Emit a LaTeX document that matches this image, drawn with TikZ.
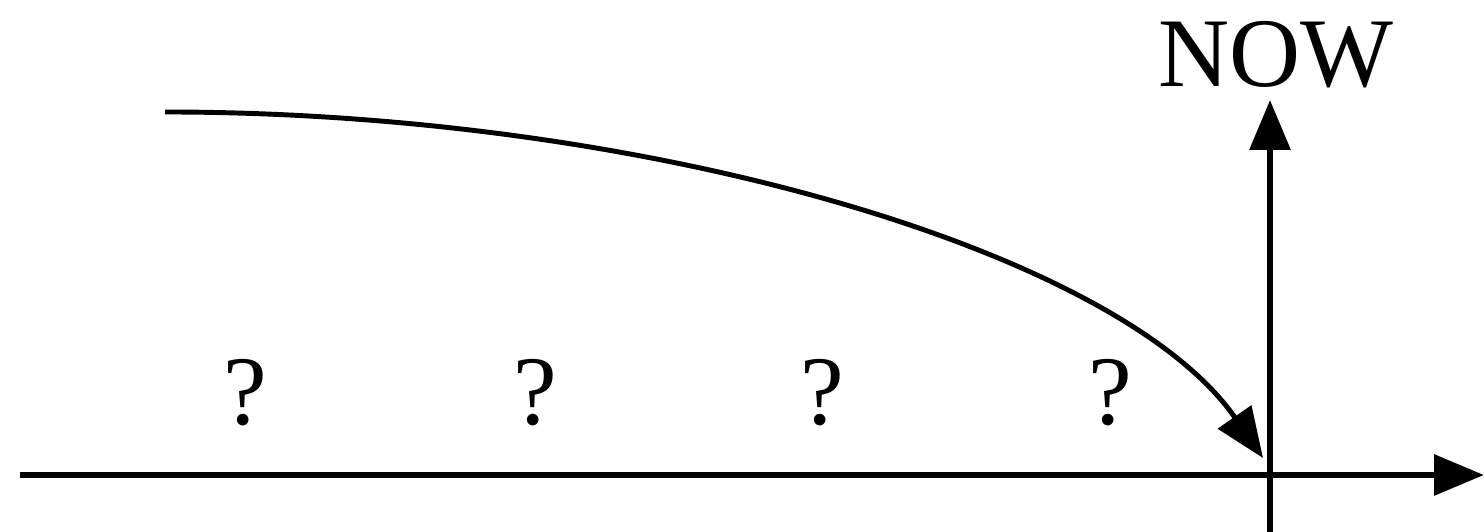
\documentclass[tikz,border=0pt]{standalone}
\usepackage{fontspec}
\setmainfont{Liberation Serif}
\usetikzlibrary{arrows.meta, positioning, calc}

\begin{document}
\begin{tikzpicture}[
  >={Triangle[length=5mm, width=4mm]},
  axis/.style={->, line width=1.8pt, black},
  flow/.style={->, line width=1.4pt, black},
  qmark/.style={font=\fontsize{28}{32}\selectfont, inner sep=0pt, anchor=base},
  nowlbl/.style={font=\fontsize{28}{32}\selectfont, inner sep=0pt, anchor=base},
]

% Frame
\useasboundingbox (0,0) rectangle (14.84,5.32);

% Axes
\coordinate (t-start) at (0.20,0.57);
\coordinate (t-end)   at (14.84,0.57);
\coordinate (n-low)   at (12.70,0);
\coordinate (n-top)   at (12.70,4.32);
\draw[axis] (t-start) -- (t-end);
\draw[axis] (n-low) -- (n-top);

% Label
\node[nowlbl] (now) at (12.76,4.45) {NOW};

% Unknown past
\node[qmark] (q1) at (2.45,1.07) {?};
\node[qmark] (q2) at (5.35,1.07) {?};
\node[qmark] (q3) at (8.22,1.07) {?};
\node[qmark] (q4) at (11.10,1.07) {?};

% Curve into now
\coordinate (c-start) at (1.65,4.20);
\coordinate (c-end)   at (12.63,0.74);
\draw[flow] (c-start) .. controls (6.5,4.2) and (11.2,2.8) .. (c-end);

\end{tikzpicture}
\end{document}
